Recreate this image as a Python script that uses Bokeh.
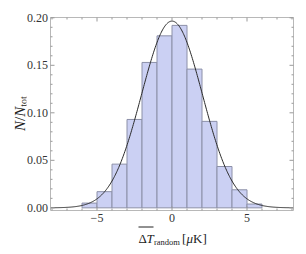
import math
import numpy as np
from bokeh.plotting import figure
from bokeh.models import Range1d, Label, Div
from bokeh.layouts import row
from bokeh.core.properties import value
from bokeh.embed import file_html
from bokeh.resources import INLINE

# ---- data ----
bin_left = [-6, -5, -4, -3, -2, -1, 0, 1, 2, 3, 4, 5]
bin_right = [-5, -4, -3, -2, -1, 0, 1, 2, 3, 4, 5, 6]
frac = [0.005, 0.017, 0.046, 0.093, 0.153, 0.181, 0.192, 0.146, 0.091, 0.0435, 0.019, 0.004]
fit_mean = 0.0
fit_sigma = 2.03
x_ticks = [-5, 0, 5]
x_tick_labels = ["\u22125", "0", "5"]
x_minor = [-8, -7, -6, -4, -3, -2, -1, 1, 2, 3, 4, 6, 7, 8]
y_ticks = [0.0, 0.05, 0.10, 0.15, 0.20]
y_tick_labels = ["0.00", "0.05", "0.10", "0.15", "0.20"]
y_minor = [0.01, 0.02, 0.03, 0.04, 0.06, 0.07, 0.08, 0.09, 0.11, 0.12, 0.13, 0.14,
           0.16, 0.17, 0.18, 0.19]

# ---- geometry (page pixels) ----
DIV_W = 26
W, H = 298 - DIV_W, 246
XR = (-8.1, 8.1)
YR = (-0.0028, 0.2003)
BOX_L, BOX_R, BOX_T, BOX_B = 50.0, 293.0, 17.0, 210.0
KX = (BOX_R - BOX_L) / (XR[1] - XR[0])
KY = (BOX_B - BOX_T) / (YR[1] - YR[0])

def dx(px):
    return XR[0] + (px - BOX_L) / KX

def dy(py):
    return YR[1] - (py - BOX_T) / KY

p = figure(width=W, height=H, output_backend="svg", toolbar_location=None,
           x_range=Range1d(dx(DIV_W), dx(DIV_W + W)), y_range=Range1d(dy(H), dy(0)),
           min_border=0, min_border_left=0, min_border_right=0,
           min_border_top=0, min_border_bottom=0, margin=0,
           x_axis_location=None, y_axis_location=None)
p.grid.visible = False
p.outline_line_color = None
p.background_fill_color = "white"
p.border_fill_color = "white"

FRAME = "#b8b8b8"
TICK = "#9a9a9a"
FONT = "Liberation Serif"
TXT = "#222222"

p.quad(left=bin_left, right=bin_right, bottom=0, top=frac,
       fill_color="#cbd0f3", line_color="#8c90a8", line_width=1)

xs = np.linspace(XR[0], XR[1], 400)
ys = np.exp(-0.5 * ((xs - fit_mean) / fit_sigma) ** 2) / (fit_sigma * math.sqrt(2 * math.pi))
p.line(xs, ys, line_color="#2a2a2a", line_width=1)

p.segment(x0=[XR[0], XR[0], XR[0], XR[1]], y0=[YR[0], YR[1], YR[0], YR[0]],
          x1=[XR[1], XR[1], XR[0], XR[1]], y1=[YR[0], YR[1], YR[1], YR[1]],
          line_color=FRAME, line_width=1)

maj_y, min_y = 4 / KY, 2 / KY
maj_x, min_x = 4 / KX, 2 / KX
for tks, ln in ((x_ticks, maj_y), (x_minor, min_y)):
    p.segment(x0=tks, x1=tks, y0=[YR[0]] * len(tks), y1=[YR[0] + ln] * len(tks),
              line_color=TICK, line_width=1)
    p.segment(x0=tks, x1=tks, y0=[YR[1]] * len(tks), y1=[YR[1] - ln] * len(tks),
              line_color=TICK, line_width=1)
for tks, ln in ((y_ticks, maj_x), (y_minor, min_x)):
    p.segment(y0=tks, y1=tks, x0=[XR[0]] * len(tks), x1=[XR[0] + ln] * len(tks),
              line_color=TICK, line_width=1)
    p.segment(y0=tks, y1=tks, x0=[XR[1]] * len(tks), x1=[XR[1] - ln] * len(tks),
              line_color=TICK, line_width=1)

p.text(x=x_ticks, y=[dy(213)] * len(x_ticks), text=x_tick_labels,
       text_font=value(FONT), text_font_size=value("12px"), text_color="#333333",
       text_align="center", text_baseline="top")
p.text(x=[dx(47.5)] * len(y_ticks), y=y_ticks, text=y_tick_labels,
       text_font=value(FONT), text_font_size=value("12px"), text_color="#333333",
       text_align="right", text_baseline="middle")

def lab(text, px, py, size, italic=False):
    p.add_layout(Label(x=dx(px), y=dy(py), text=text, text_font=FONT,
                       text_font_size=f"{size}px", text_color=TXT,
                       text_font_style="italic" if italic else "normal",
                       text_align="left", text_baseline="alphabetic"))

# x label: overline(ΔT)_random [μK]
lab("\u0394", 138, 238, 13)
lab("T", 146, 238, 13, italic=True)
lab("random", 153.5, 241, 8.5)
lab("[", 181.5, 238, 13)
lab("\u03bc", 186, 238, 13, italic=True)
lab("K]", 192.5, 238, 13)
p.segment(x0=[dx(138)], y0=[dy(226.5)], x1=[dx(153)], y1=[dy(226.5)],
          line_color=TXT, line_width=1)

# y label: N/N_tot, rotated with CSS
ylab_html = (
    '<div style="position:absolute; left:12px; top:131px; transform:rotate(-90deg); '
    'transform-origin:0 0; white-space:nowrap; font-family:\'Liberation Serif\', serif; '
    'font-size:15px; line-height:16px; color:#222222;">'
    '<i>N</i>/<i>N</i><sub style="font-size:10px; font-style:normal; '
    'vertical-align:-2px;">tot</sub></div>'
)
ydiv = Div(text=ylab_html, width=DIV_W, height=H, margin=0,
           styles={"overflow": "visible", "position": "relative"})

layout = row(ydiv, p, spacing=0, margin=0)
open("out.html", "w").write(file_html(layout, INLINE))
